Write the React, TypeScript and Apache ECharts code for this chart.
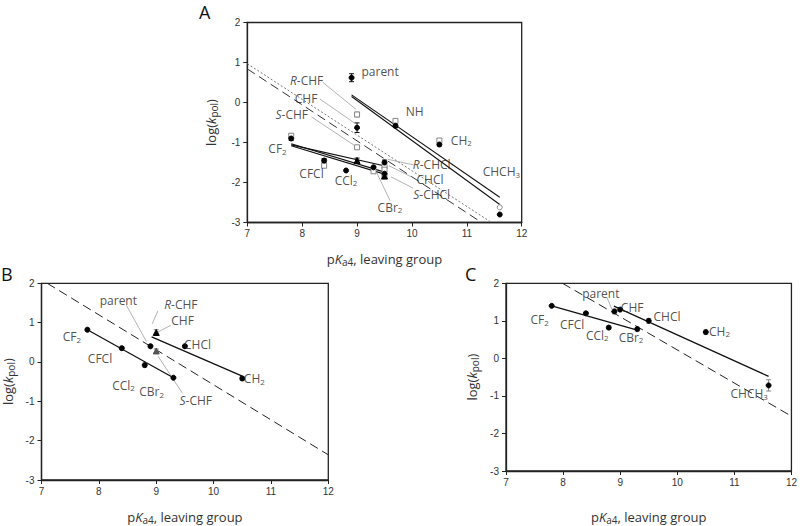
import React, { useEffect, useRef } from "react";
import * as echarts from "echarts";

// ---------- Data ----------
const xTicks = [7, 8, 9, 10, 11, 12];
const yTicks = [-3, -2, -1, 0, 1, 2];

// Panel A
const filledA = [
  [8.9, 0.62, 0.1], [9.0, -0.63, 0.12], [9.7, -0.58, 0.05], [10.5, -1.05, 0.04],
  [11.6, -2.8, 0], [7.8, -0.9, 0.05], [8.4, -1.45, 0.05], [8.8, -1.7, 0],
  [9.3, -1.62, 0.03], [9.5, -1.5, 0.06], [9.5, -1.78, 0.05],
];
const openA = [
  [9.0, -0.3, 0.06], [9.0, -1.12, 0.04], [9.7, -0.46, 0.05], [10.5, -0.95, 0.05],
  [7.8, -0.83, 0.05], [8.4, -1.58, 0.05], [9.3, -1.72, 0.03], [9.5, -1.6, 0.05],
  [9.5, -1.68, 0.04], [9.5, -1.82, 0.03],
];
const openCircleA = [[11.6, -2.62]];
const triA = [[9.0, -1.45, 0.06], [9.5, -1.84, 0.04]];
const fitsA = [
  [[8.9, 0.19], [11.6, -2.37]],
  [[8.9, 0.15], [11.6, -2.55]],
  [[7.8, -1.03], [9.5, -1.74]],
  [[7.8, -1.08], [9.5, -1.79]],
  [[7.8, -1.06], [9.55, -1.6]],
];
const dottedA = [[7, 0.97], [11.45, -3]];
const dashedA = [[7, 0.84], [11.27, -3]];
const leadersA = [
  [[8.38, 0.5], [8.98, -0.17]],
  [[8.32, 0.09], [8.96, -0.52]],
  [[8.17, -0.36], [8.96, -1.08]],
  [[10.03, -1.56], [9.56, -1.42]],
  [[9.99, -1.86], [9.58, -1.58]],
  [[10.02, -2.14], [9.62, -1.86]],
  [[9.6, -2.45], [9.36, -1.76]],
];
const namesA = ["parent", "{i|R}-CHF", "CHF", "{i|S}-CHF", "NH", "CH{s|2}", "CF{s|2}", "CFCl", "CCl{s|2}", "CHCH{s|3}", "{i|R}-CHCl", "CHCl", "{i|S}-CHCl", "CBr{s|2}"];
const anchorsA = [[9.42, 0.77], [8.08, 0.54], [8.07, 0.1], [7.81, -0.3], [10.05, -0.23], [10.9, -0.94], [7.55, -1.15], [8.17, -1.77], [8.8, -1.94], [11.63, -1.73], [10.36, -1.55], [10.33, -1.93], [10.36, -2.31], [9.6, -2.62]];

// Panel B
const filledB = [
  [7.8, 0.82, 0.04], [8.4, 0.35, 0.04], [8.8, -0.08, 0.05], [9.3, -0.4, 0.02],
  [8.9, 0.4, 0.04], [9.5, 0.4, 0.04], [10.5, -0.42, 0.05],
];
const triB = [[9.0, 0.75, 0.07]];
const grayTriB = [[9.0, 0.28, 0.05]];
const fitsB = [
  [[7.8, 0.82], [9.3, -0.4]],
  [[8.92, 0.64], [10.5, -0.36]],
];
const dashedB = [[7.1, 2.0], [12, -2.36]];
const leadersB = [
  [[8.48, 1.44], [8.83, 0.52]],
  [[9.25, 0.93], [9.03, 0.76]],
  [[9.46, -0.8], [9.03, 0.15]],
  [[9.03, 1.3], [8.93, 0.97]],
];
const namesB = ["CF{s|2}", "CFCl", "CCl{s|2}", "CBr{s|2}", "parent", "{i|R}-CHF", "CHF", "CHCl", "CH{s|2}", "{i|S}-CHF"];
const anchorsB = [[7.53, 0.64], [8.02, 0.09], [8.43, -0.59], [8.92, -0.76], [8.34, 1.57], [9.43, 1.46], [9.46, 1.05], [9.72, 0.45], [10.71, -0.43], [9.69, -0.99]];

// Panel C
const filledC = [
  [7.8, 1.4, 0.02], [8.4, 1.2, 0.05], [8.8, 0.82, 0.05], [9.3, 0.78, 0.05],
  [8.9, 1.25, 0.06], [9.0, 1.3, 0.03], [9.5, 1.0, 0.06], [10.5, 0.7, 0.05],
  [11.6, -0.72, 0.15],
];
const fitsC = [
  [[7.8, 1.4], [9.3, 0.75]],
  [[8.89, 1.39], [11.6, -0.48]],
];
const dashedC = [[7.99, 2.0], [12, -1.54]];
const leadersC = [[[8.77, 1.62], [8.86, 1.29]]];
const namesC = ["parent", "CHF", "CHCl", "CH{s|2}", "CF{s|2}", "CFCl", "CCl{s|2}", "CBr{s|2}", "CHCH{s|3}"];
const anchorsC = [[8.66, 1.73], [9.21, 1.35], [9.82, 1.12], [10.74, 0.72], [7.59, 1.03], [8.16, 0.89], [8.6, 0.61], [9.19, 0.56], [11.26, -0.94]];

// ---------- Styling helpers ----------
const LABEL_FONT = "'Open Sans', 'Noto Sans', sans-serif";
const TICK_FONT = "'Liberation Sans', Arial, sans-serif";
const INK = "#222";
const labelRich = {
  n: { fontSize: 12, fontFamily: LABEL_FONT, color: INK, lineHeight: 13 },
  i: { fontSize: 12, fontFamily: LABEL_FONT, color: INK, fontStyle: "italic", lineHeight: 13 },
  s: { fontSize: 8, fontFamily: LABEL_FONT, color: INK, lineHeight: 4, verticalAlign: "bottom" },
};
const wrapRich = (t: string) =>
  t.split(/(\{[a-z]\|[^}]*\})/).filter((p) => p.length).map((p) => (p.startsWith("{") ? p : `{n|${p}}`)).join("");

const grids = [
  { left: 247.3, top: 22.5, width: 274.4, height: 200 },
  { left: 39.3, top: 283.3, width: 289, height: 202.4 },
  { left: 506, top: 283.3, width: 288.3, height: 198.7 },
];
const xNameGaps = [28, 29, 38];
const yNameGaps = [28, 26, 26];

const axisNameRich = {
  n: { fontSize: 13, fontFamily: LABEL_FONT, color: "#333", lineHeight: 16 },
  i: { fontSize: 13, fontFamily: LABEL_FONT, color: "#333", fontStyle: "italic", lineHeight: 16 },
  s: { fontSize: 10, fontFamily: LABEL_FONT, color: "#333", lineHeight: 6, verticalAlign: "bottom" },
};

function errorSeries(g: number, data: number[][], color: string) {
  return {
    type: "custom",
    xAxisIndex: g,
    yAxisIndex: g,
    silent: true,
    z: 3,
    data,
    renderItem: (_p: any, api: any) => {
      const x = api.value(0), y = api.value(1), e = api.value(2);
      if (!e) return { type: "group", children: [] };
      const t = api.coord([x, y + e]);
      const b = api.coord([x, y - e]);
      const w = 2.5;
      const st = { stroke: color, lineWidth: 1 };
      return {
        type: "group",
        children: [
          { type: "line", shape: { x1: t[0], y1: t[1], x2: b[0], y2: b[1] }, style: st },
          { type: "line", shape: { x1: t[0] - w, y1: t[1], x2: t[0] + w, y2: t[1] }, style: st },
          { type: "line", shape: { x1: b[0] - w, y1: b[1], x2: b[0] + w, y2: b[1] }, style: st },
        ],
      };
    },
  };
}

function scatter(g: number, data: number[][], symbol: string, size: number, fill: string, border: string) {
  return {
    type: "scatter",
    xAxisIndex: g,
    yAxisIndex: g,
    data: data.map((d) => [d[0], d[1]]),
    symbol,
    symbolSize: size,
    silent: true,
    z: 4,
    itemStyle: { color: fill, borderColor: border, borderWidth: 1, opacity: 1 },
  };
}

function linesSeries(g: number, segs: number[][][], color: string, width: number, type: any, z = 2) {
  return {
    type: "lines",
    coordinateSystem: "cartesian2d",
    xAxisIndex: g,
    yAxisIndex: g,
    silent: true,
    z,
    polyline: false,
    data: segs.map((s) => ({ coords: s })),
    lineStyle: { color, width, type, opacity: 1 },
  };
}

function labelSeries(g: number, names: string[], anchors: number[][]) {
  return {
    type: "scatter",
    xAxisIndex: g,
    yAxisIndex: g,
    silent: true,
    symbolSize: 0,
    z: 6,
    data: names.map((n, i) => ({
      value: anchors[i],
      label: { show: true, position: "inside", formatter: wrapRich(n), rich: labelRich },
    })),
  };
}

export default function App() {
  const ref = useRef<HTMLDivElement>(null);
  useEffect(() => {
    if (!ref.current) return;
    const chart = echarts.init(ref.current, undefined, { renderer: "svg" });
    const xAxis = grids.map((_, g) => ({
      type: "value",
      gridIndex: g,
      min: xTicks[0],
      max: xTicks[xTicks.length - 1],
      interval: 1,
      name: "{n|p}{i|K}{s|a4}{n|, leaving group}",
      nameLocation: "middle",
      nameGap: xNameGaps[g],
      nameTextStyle: { rich: axisNameRich },
      axisLine: { show: true, onZero: false, lineStyle: { color: "#222", width: 1.3 } },
      axisTick: { show: true, length: 4, lineStyle: { color: "#222" } },
      axisLabel: { fontSize: 10, color: "#333", fontFamily: TICK_FONT, margin: 6 },
      splitLine: { show: false },
    }));
    const yAxis = grids.map((_, g) => ({
      type: "value",
      gridIndex: g,
      min: yTicks[0],
      max: yTicks[yTicks.length - 1],
      interval: 1,
      name: "{n|log(}{i|k}{s|pol}{n|)}",
      nameLocation: "middle",
      nameGap: yNameGaps[g],
      nameRotate: 90,
      nameTextStyle: { rich: axisNameRich },
      axisLine: { show: true, onZero: false, lineStyle: { color: "#222", width: 1.3 } },
      axisTick: { show: true, length: 4, lineStyle: { color: "#222" } },
      axisLabel: { fontSize: 10, color: "#333", fontFamily: TICK_FONT, margin: 7 },
      splitLine: { show: false },
    }));

    const series: any[] = [
      // Panel A
      linesSeries(0, [dottedA], "#777", 1, [2, 2]),
      linesSeries(0, [dashedA], "#333", 1, [9, 5]),
      linesSeries(0, fitsA, "#111", 1.1, "solid"),
      linesSeries(0, leadersA, "#aaa", 0.9, "solid", 1),
      errorSeries(0, openA, "#888"),
      errorSeries(0, filledA, "#111"),
      errorSeries(0, triA, "#111"),
      scatter(0, openA, "rect", 5, "#fff", "#888"),
      scatter(0, openCircleA, "circle", 5, "#fff", "#888"),
      scatter(0, filledA, "circle", 5, "#000", "#000"),
      scatter(0, triA, "triangle", 6, "#000", "#000"),
      labelSeries(0, namesA, anchorsA),
      // Panel B
      linesSeries(1, [dashedB], "#222", 1, [9, 5]),
      linesSeries(1, fitsB, "#111", 1.3, "solid"),
      linesSeries(1, leadersB, "#aaa", 0.9, "solid", 1),
      errorSeries(1, filledB, "#888"),
      errorSeries(1, triB, "#888"),
      errorSeries(1, grayTriB, "#888"),
      scatter(1, filledB, "circle", 5, "#000", "#000"),
      scatter(1, triB, "triangle", 6, "#000", "#000"),
      scatter(1, grayTriB, "triangle", 6, "#555", "#555"),
      labelSeries(1, namesB, anchorsB),
      // Panel C
      linesSeries(2, [dashedC], "#222", 1, [9, 5]),
      linesSeries(2, fitsC, "#111", 1.3, "solid"),
      linesSeries(2, leadersC, "#aaa", 0.9, "solid", 1),
      errorSeries(2, filledC, "#888"),
      scatter(2, filledC, "circle", 5, "#000", "#000"),
      labelSeries(2, namesC, anchorsC),
    ];

    chart.setOption({
      animation: false,
      backgroundColor: "#fff",
      grid: grids.map((g) => ({ ...g, show: true, borderColor: "#222", borderWidth: 1.3, backgroundColor: "transparent" })),
      xAxis,
      yAxis,
      series,
      graphic: [
        { type: "text", left: 199, top: 3, style: { text: "A", fontSize: 18, fontFamily: LABEL_FONT, fill: "#111" } },
        { type: "text", left: 1, top: 265, style: { text: "B", fontSize: 18, fontFamily: LABEL_FONT, fill: "#111" } },
        { type: "text", left: 465, top: 265, style: { text: "C", fontSize: 18, fontFamily: LABEL_FONT, fill: "#111" } },
      ],
    });
    return () => chart.dispose();
  }, []);
  return <div ref={ref} style={{ position: "fixed", left: 0, top: 0, width: 800, height: 526, background: "#fff" }} />;
}
